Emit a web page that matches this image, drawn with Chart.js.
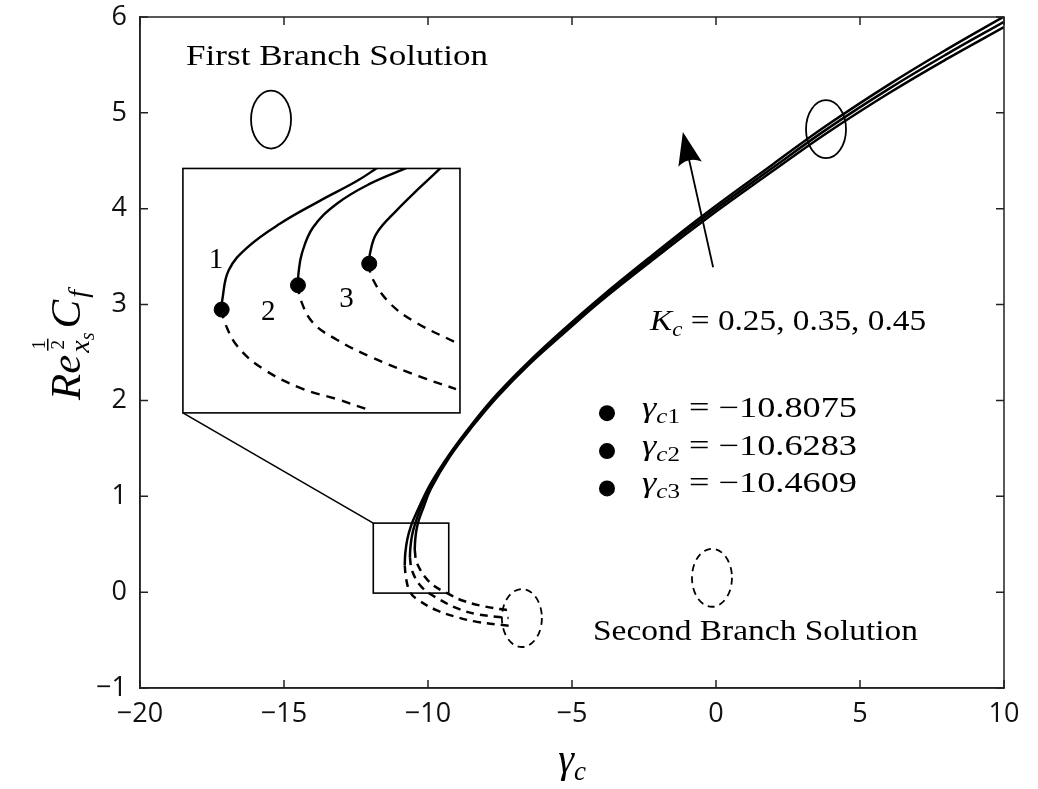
<!DOCTYPE html>
<html>
<head>
<meta charset="utf-8">
<script src="https://cdn.jsdelivr.net/npm/chart.js@4.4.1/dist/chart.umd.min.js"></script>
<style>
  html, body { margin: 0; padding: 0; background: #fff; }
  #wrap { position: relative; width: 1038px; height: 789px; }
  #main { position: absolute; left: 0; top: 0; }
  #inset { position: absolute; }
</style>
</head>
<body>
<div id="wrap">
  <canvas id="main" width="1038" height="789"></canvas>
  <canvas id="inset"></canvas>
</div>
<script>
// ---- axes ----
var xTicks = [-20, -15, -10, -5, 0, 5, 10];
var yTicks = [-1, 0, 1, 2, 3, 4, 5, 6];

// ---- parameters and turning points ----
var kcValues = ['0.25', '0.35', '0.45'];
var gammaCritical = [-10.8075, -10.6283, -10.4609];
var cfCritical = [0.28, 0.365, 0.44];

// ---- first branch (solid), points after the turning point ----
var gammaUpper1 = [-10.79, -10.72, -10.58, -10.38, -9.93, -9.24, -8.44, -7.60, -6.46, -5.14, -4.03, -2.29, -0.45, 1.98, 3.85, 6.0, 8.0, 10.0];
var cfUpper1    = [0.40, 0.55, 0.70, 0.84, 1.12, 1.445, 1.765, 2.065, 2.415, 2.78, 3.07, 3.495, 3.93, 4.465, 4.87, 5.295, 5.66, 6.005];
var gammaUpper2 = [-10.61, -10.55, -10.44, -10.30, -9.93, -9.24, -8.44, -7.60, -6.46, -5.14, -4.03, -2.29, -0.45, 1.98, 3.85, 6.0, 8.0, 10.0];
var cfUpper2    = [0.47, 0.60, 0.72, 0.84, 1.10, 1.43, 1.75, 2.05, 2.40, 2.76, 3.05, 3.47, 3.90, 4.43, 4.83, 5.25, 5.61, 5.95];
var gammaUpper3 = [-10.445, -10.40, -10.32, -10.20, -9.90, -9.24, -8.44, -7.60, -6.46, -5.14, -4.03, -2.29, -0.45, 1.98, 3.85, 6.0, 8.0, 10.0];
var cfUpper3    = [0.54, 0.65, 0.75, 0.85, 1.08, 1.415, 1.735, 2.035, 2.385, 2.74, 3.03, 3.445, 3.87, 4.395, 4.79, 5.205, 5.56, 5.895];

// ---- second branch (dashed) ----
var gammaLower1 = [-10.76, -10.62, -10.35, -9.69, -9.0, -8.3, -7.2];
var cfLower1    = [0.14, 0.0, -0.08, -0.19, -0.26, -0.31, -0.35];
var gammaLower2 = [-10.55, -10.21, -9.58, -8.89, -8.3, -7.2];
var cfLower2    = [0.22, 0.05, -0.08, -0.18, -0.23, -0.27];
var gammaLower3 = [-10.38, -9.93, -9.34, -8.78, -8.02, -7.2];
var cfLower3    = [0.30, 0.10, -0.01, -0.09, -0.15, -0.19];

// ---- magnified view near the turning points ----
var insetGammaMin = -10.896, insetGammaMax = -10.25;
var insetCfMin = -0.077, insetCfMax = 0.77;
var zoomGammaUpper1 = [-10.806, -10.791, -10.747, -10.670, -10.577, -10.490, -10.441];
var zoomCfUpper1    = [0.314, 0.417, 0.497, 0.580, 0.659, 0.728, 0.775];
var zoomGammaUpper2 = [-10.627, -10.619, -10.593, -10.537, -10.460, -10.371];
var zoomCfUpper2    = [0.407, 0.476, 0.566, 0.649, 0.718, 0.775];
var zoomGammaUpper3 = [-10.459, -10.444, -10.397, -10.343, -10.292];
var zoomCfUpper3    = [0.476, 0.545, 0.625, 0.704, 0.775];
var zoomGammaLower1 = [-10.800, -10.770, -10.709, -10.616, -10.537, -10.467];
var zoomCfLower1    = [0.234, 0.151, 0.072, 0.003, -0.032, -0.067];
var zoomGammaLower2 = [-10.622, -10.593, -10.537, -10.460, -10.343, -10.257];
var zoomCfLower2    = [0.314, 0.234, 0.175, 0.117, 0.047, 0.003];
var zoomGammaLower3 = [-10.455, -10.413, -10.350, -10.257];
var zoomCfLower3    = [0.393, 0.303, 0.234, 0.165];

var SERIF = '"Liberation Serif", "DejaVu Serif", serif';
var SANS = '"Open Sans", "Noto Sans", sans-serif';
function font(style, size) { return (style ? style + ' ' : '') + size + 'px ' + SERIF; }

function branch(i, xs, ys) {
    var pts = [{ x: gammaCritical[i], y: cfCritical[i] }];
    for (var k = 0; k < xs.length; k++) pts.push({ x: xs[k], y: ys[k] });
    return pts;
}
function line(data, dashed, width, dash) {
    return {
        data: data, showLine: true, borderColor: '#000', borderWidth: width,
        borderDash: dashed ? dash : [], pointRadius: 0, tension: 0.4, fill: false
    };
}

// text made of runs (italic symbols, subscripts ...), optionally stretched to a width
function runsWidth(ctx, runs) {
    var w = 0;
    runs.forEach(function(r) { ctx.font = r.font; w += ctx.measureText(r.text).width + (r.gap || 0); });
    return w;
}
function drawRuns(ctx, x, y, runs, width) {
    var natural = runsWidth(ctx, runs);
    var sx = width ? width / natural : 1;
    ctx.save();
    ctx.translate(x, y);
    ctx.scale(sx, 1);
    ctx.textBaseline = 'alphabetic';
    ctx.textAlign = 'left';
    var cx = 0;
    runs.forEach(function(r) {
        ctx.font = r.font;
        ctx.fillText(r.text, cx, r.dy || 0);
        cx += ctx.measureText(r.text).width + (r.gap || 0);
    });
    ctx.restore();
}

// ---- inset frame and zoom box in main-axis units ----
var insetFrame = { x0: -18.51, x1: -8.89, y0: 1.87, y1: 4.42 };
var zoomBox = { x0: -11.9, x1: -9.28, y0: -0.01, y1: 0.72 };

var decorPlugin = {
    id: 'decor',
    afterDraw: function(chart) {
        var ctx = chart.ctx, a = chart.chartArea;
        var xs = chart.scales.x, ys = chart.scales.y;
        function px(v) { return xs.getPixelForValue(v); }
        function py(v) { return ys.getPixelForValue(v); }
        ctx.save();
        ctx.strokeStyle = '#222';
        ctx.fillStyle = '#000';

        // box + inward ticks
        ctx.lineWidth = 1.5;
        ctx.strokeRect(a.left, a.top, a.right - a.left, a.bottom - a.top);
        ctx.beginPath();
        xTicks.forEach(function(v) {
            var p = px(v);
            ctx.moveTo(p, a.bottom); ctx.lineTo(p, a.bottom - 8);
            ctx.moveTo(p, a.top); ctx.lineTo(p, a.top + 8);
        });
        yTicks.forEach(function(v) {
            var p = py(v);
            ctx.moveTo(a.left, p); ctx.lineTo(a.left + 8, p);
            ctx.moveTo(a.right, p); ctx.lineTo(a.right - 8, p);
        });
        ctx.stroke();

        // zoom box, inset frame and connector
        ctx.strokeStyle = '#000';
        ctx.lineWidth = 1.6;
        ctx.strokeRect(px(zoomBox.x0), py(zoomBox.y1), px(zoomBox.x1) - px(zoomBox.x0), py(zoomBox.y0) - py(zoomBox.y1));
        ctx.strokeRect(px(insetFrame.x0), py(insetFrame.y1), px(insetFrame.x1) - px(insetFrame.x0), py(insetFrame.y0) - py(insetFrame.y1));
        ctx.beginPath();
        ctx.moveTo(px(insetFrame.x0), py(insetFrame.y0));
        ctx.lineTo(px(zoomBox.x0), py(zoomBox.y1));
        ctx.stroke();

        // branch markers
        function ellipse(gx, gy, dashed) {
            ctx.save();
            ctx.lineWidth = 1.8;
            if (dashed) ctx.setLineDash([7, 5]);
            ctx.beginPath();
            ctx.ellipse(px(gx), py(gy), 20, 29, 0, 0, Math.PI * 2);
            ctx.stroke();
            ctx.restore();
        }
        ellipse(-15.45, 4.93, false);
        ellipse(3.82, 4.83, false);
        ellipse(-0.14, 0.15, true);
        ellipse(-6.74, -0.27, true);

        // Kc arrow
        var tx = px(-0.10), ty = py(3.39), hx = px(-1.15), hy = py(4.80);
        var dx = hx - tx, dy = hy - ty, len = Math.sqrt(dx * dx + dy * dy);
        var ux = dx / len, uy = dy / len, nx = -uy, ny = ux;
        var L = 33, W = 12;
        ctx.lineWidth = 1.8;
        ctx.beginPath();
        ctx.moveTo(tx, ty);
        ctx.lineTo(hx - ux * 20, hy - uy * 20);
        ctx.stroke();
        ctx.beginPath();
        ctx.moveTo(hx, hy);
        ctx.lineTo(hx - ux * L + nx * W, hy - uy * L + ny * W);
        ctx.quadraticCurveTo(hx - ux * L * 0.75, hy - uy * L * 0.75, hx - ux * L - nx * W, hy - uy * L - ny * W);
        ctx.closePath();
        ctx.fill();

        // labels
        drawRuns(ctx, px(-18.40), py(5.495), [{ text: 'First Branch Solution', font: font('', 30) }], 302);
        drawRuns(ctx, px(-4.27), py(-0.50), [{ text: 'Second Branch Solution', font: font('', 30) }], 325);
        drawRuns(ctx, px(-2.29), py(2.73), [
            { text: 'K', font: font('italic', 29) },
            { text: 'c', font: font('italic', 20), dy: 6 },
            { text: ' = ' + kcValues.join(', '), font: font('', 29) }
        ], 276);

        // turning-point values
        var rowY = [1.825, 1.43, 1.04];
        gammaCritical.forEach(function(g, i) {
            var dotY = py(rowY[i]) - 4;
            ctx.beginPath();
            ctx.arc(px(-3.785), dotY, 8, 0, Math.PI * 2);
            ctx.fill();
            drawRuns(ctx, px(-2.57), py(rowY[i]), [
                { text: 'γ', font: font('italic', 29) },
                { text: 'c', font: font('italic', 20), dy: 6 },
                { text: String(i + 1), font: font('', 20), dy: 6 },
                { text: ' = −' + Math.abs(g).toFixed(4), font: font('', 29) }
            ], 215);
        });

        // axis titles
        var xt = [{ text: 'γ', font: font('italic', 40) }, { text: 'c', font: font('italic', 27), dy: 8 }];
        var xw = runsWidth(ctx, xt);
        drawRuns(ctx, (a.left + a.right) / 2 - xw / 2, 772, xt);

        ctx.save();
        ctx.translate(80, 345);
        ctx.rotate(-Math.PI / 2);
        ctx.textBaseline = 'alphabetic';
        ctx.font = font('italic', 43);
        var wRe = ctx.measureText('Re').width;
        ctx.font = font('italic', 28);
        var wx = ctx.measureText('x').width;
        ctx.font = font('italic', 20);
        var ws = ctx.measureText('s').width;
        ctx.font = font('italic', 43);
        var wC = ctx.measureText('C').width;
        ctx.font = font('italic', 28);
        var wf = ctx.measureText('f').width;
        var total = wRe + 2 + wx + ws + 4 + wC + 2 + wf;
        var cx = -total / 2;
        ctx.font = font('italic', 43);
        ctx.fillText('Re', cx, 0);
        cx += wRe + 2;
        // 1/2 exponent stacked above the x_s subscript
        ctx.font = font('', 19);
        ctx.textAlign = 'center';
        ctx.fillText('1', cx + 8, -35);
        ctx.fillText('2', cx + 8, -16);
        ctx.fillRect(cx + 2, -33, 12, 1.5);
        ctx.textAlign = 'left';
        ctx.font = font('italic', 28);
        ctx.fillText('x', cx, 9);
        ctx.font = font('italic', 20);
        ctx.fillText('s', cx + wx, 14);
        cx += wx + ws + 4;
        ctx.font = font('italic', 43);
        ctx.fillText('C', cx, 0);
        cx += wC + 2;
        ctx.font = font('italic', 28);
        ctx.fillText('f', cx, 7);
        ctx.restore();

        ctx.restore();
    }
};

var mainChart = new Chart(document.getElementById('main'), {
    type: 'scatter',
    data: {
        datasets: [
            line(branch(0, gammaUpper1, cfUpper1), false, 2.5),
            line(branch(1, gammaUpper2, cfUpper2), false, 2.5),
            line(branch(2, gammaUpper3, cfUpper3), false, 2.5),
            line(branch(0, gammaLower1, cfLower1), true, 2.5, [8, 6]),
            line(branch(1, gammaLower2, cfLower2), true, 2.5, [8, 6]),
            line(branch(2, gammaLower3, cfLower3), true, 2.5, [8, 6])
        ]
    },
    options: {
        responsive: false,
        animation: false,
        devicePixelRatio: 1,
        layout: { autoPadding: false, padding: { left: 0, top: 17, right: 34, bottom: 0 } },
        plugins: { legend: { display: false }, tooltip: { enabled: false } },
        scales: {
            x: {
                type: 'linear', min: -20, max: 10,
                afterBuildTicks: function(s) { s.ticks = xTicks.map(function(v) { return { value: v }; }); },
                afterFit: function(s) { s.height = 101; s.paddingLeft = 0; s.paddingRight = 0; },
                grid: { display: false, drawTicks: false },
                border: { display: true, color: '#222', width: 1.5 },
                ticks: {
                    color: '#111', padding: 10, maxRotation: 0, autoSkip: false,
                    font: { family: SANS, size: 27 },
                    callback: function(v) { return v < 0 ? '−' + Math.abs(v) : String(v); }
                }
            },
            y: {
                type: 'linear', min: -1, max: 6,
                afterBuildTicks: function(s) { s.ticks = yTicks.map(function(v) { return { value: v }; }); },
                afterFit: function(s) { s.width = 140; s.paddingTop = 0; s.paddingBottom = 0; },
                grid: { display: false, drawTicks: false },
                border: { display: true, color: '#222', width: 1.5 },
                ticks: {
                    color: '#111', padding: 13, autoSkip: false,
                    font: { family: SANS, size: 27 },
                    callback: function(v) { return v < 0 ? '−' + Math.abs(v) : String(v); }
                }
            }
        }
    },
    plugins: [decorPlugin]
});

// ---- inset chart placed on the frame drawn above ----
var sx = mainChart.scales.x, sy = mainChart.scales.y;
var iL = Math.round(sx.getPixelForValue(insetFrame.x0)) + 1;
var iR = Math.round(sx.getPixelForValue(insetFrame.x1)) - 1;
var iT = Math.round(sy.getPixelForValue(insetFrame.y1)) + 1;
var iB = Math.round(sy.getPixelForValue(insetFrame.y0)) - 1;
var insetCanvas = document.getElementById('inset');
insetCanvas.width = iR - iL;
insetCanvas.height = iB - iT;
insetCanvas.style.left = iL + 'px';
insetCanvas.style.top = iT + 'px';

var insetLabels = {
    id: 'insetLabels',
    afterDraw: function(chart) {
        var ctx = chart.ctx, xs = chart.scales.x, ys = chart.scales.y;
        ctx.save();
        ctx.fillStyle = '#000';
        ctx.font = font('', 29);
        ctx.textAlign = 'center';
        ctx.textBaseline = 'middle';
        ctx.fillText('1', xs.getPixelForValue(-10.821), ys.getPixelForValue(0.452));
        ctx.fillText('2', xs.getPixelForValue(-10.698), ys.getPixelForValue(0.269));
        ctx.fillText('3', xs.getPixelForValue(-10.514), ys.getPixelForValue(0.314));
        ctx.restore();
    }
};

function zoomLine(i, xs, ys, dashed) {
    return line(branch(i, xs, ys), dashed, 2.4, [9, 7]);
}

new Chart(insetCanvas, {
    type: 'scatter',
    data: {
        datasets: [
            zoomLine(0, zoomGammaUpper1, zoomCfUpper1, false),
            zoomLine(1, zoomGammaUpper2, zoomCfUpper2, false),
            zoomLine(2, zoomGammaUpper3, zoomCfUpper3, false),
            zoomLine(0, zoomGammaLower1, zoomCfLower1, true),
            zoomLine(1, zoomGammaLower2, zoomCfLower2, true),
            zoomLine(2, zoomGammaLower3, zoomCfLower3, true),
            {
                data: gammaCritical.map(function(g, i) { return { x: g, y: cfCritical[i] }; }),
                pointRadius: 7.5, pointBackgroundColor: '#000', pointBorderColor: '#000', showLine: false
            }
        ]
    },
    options: {
        responsive: false,
        animation: false,
        devicePixelRatio: 1,
        layout: { autoPadding: false, padding: 0 },
        plugins: { legend: { display: false }, tooltip: { enabled: false } },
        scales: {
            x: { type: 'linear', min: insetGammaMin, max: insetGammaMax, display: false },
            y: { type: 'linear', min: insetCfMin, max: insetCfMax, display: false }
        }
    },
    plugins: [insetLabels]
});
</script>
</body>
</html>
